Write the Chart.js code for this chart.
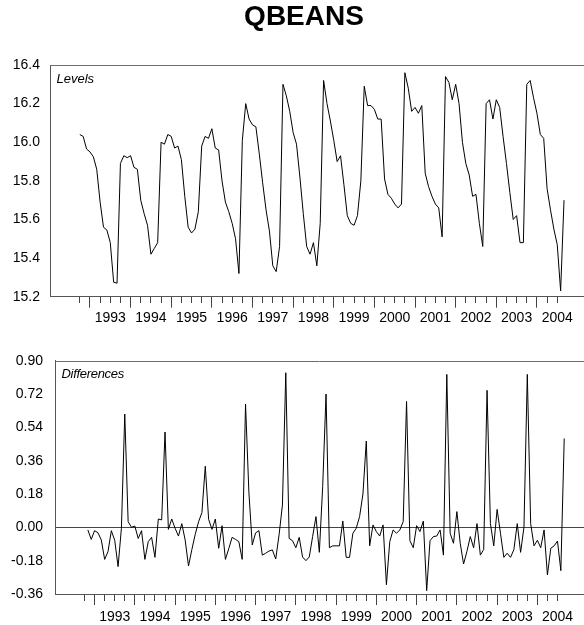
<!DOCTYPE html>
<html>
<head>
<meta charset="utf-8">
<script src="https://cdn.jsdelivr.net/npm/chart.js@4.4.1/dist/chart.umd.min.js"></script>
<style>
    body { margin: 0; background: #fff; overflow: hidden; }
    #top { position: relative; width: 584px; height: 330px; }
    #bottom { position: relative; width: 584px; height: 295px; }
</style>
</head>
<body>
<div id="top"><canvas id="levelsChart"></canvas></div>
<div id="bottom"><canvas id="diffsChart"></canvas></div>
<script>
// monthly series, first observation 1992M10
const startMonth = 9; // months after 1992M1
const years = [1993, 1994, 1995, 1996, 1997, 1998, 1999, 2000, 2001, 2002, 2003, 2004];

const levels = [
    16.04, 16.03, 15.965, 15.95, 15.925, 15.86, 15.69, 15.56, 15.545, 15.48, 15.275, 15.27,
    15.89, 15.93, 15.92, 15.93, 15.87, 15.86, 15.70, 15.63, 15.57, 15.42, 15.45, 15.48,
    16.00, 15.99, 16.04, 16.03, 15.97, 15.98, 15.91, 15.72, 15.56, 15.53, 15.55, 15.64,
    15.98, 16.03, 16.02, 16.07, 15.97, 15.96, 15.80, 15.69, 15.64, 15.58, 15.50, 15.32,
    16.01, 16.20, 16.12, 16.09, 16.08, 15.94, 15.79, 15.65, 15.54, 15.36, 15.33, 15.46,
    16.30, 16.24, 16.16, 16.05, 15.99, 15.82, 15.63, 15.46, 15.42, 15.48, 15.36, 15.58,
    16.32, 16.20, 16.11, 16.01, 15.90, 15.93, 15.78, 15.62, 15.58, 15.57, 15.62, 15.80,
    16.29, 16.19, 16.19, 16.17, 16.12, 16.12, 15.81, 15.73, 15.71, 15.68, 15.66, 15.68,
    16.36, 16.28, 16.16, 16.18, 16.15, 16.19, 15.84, 15.77, 15.72, 15.68, 15.66, 15.51,
    16.34, 16.31, 16.22, 16.30, 16.20, 16.00, 15.89, 15.83, 15.72, 15.73, 15.58, 15.46,
    16.20, 16.22, 16.12, 16.22, 16.18, 16.03, 15.89, 15.74, 15.60, 15.62, 15.48, 15.48,
    16.30, 16.32, 16.23, 16.15, 16.04, 16.02, 15.76, 15.65, 15.55, 15.47, 15.23, 15.70,
];

// first difference starts at 1992M11
const diffs = [
    -0.014, -0.065, -0.018, -0.029, -0.068, -0.173, -0.131, -0.018, -0.07, -0.212, -0.005,
    0.612, 0.031, 0.0, 0.007, -0.06, -0.018, -0.173, -0.077, -0.054, -0.162, 0.045, 0.04,
    0.515, -0.011, 0.045, -0.005, -0.047, 0.02, -0.068, -0.209, -0.12, -0.038, 0.03, 0.08,
    0.33, 0.043, -0.011, 0.045, -0.113, 0.009, -0.173, -0.115, -0.054, -0.065, -0.077, -0.173,
    0.666, 0.19, -0.095, -0.03, -0.018, -0.15, -0.14, -0.128, -0.122, -0.171, -0.04, 0.12,
    0.835, -0.06, -0.072, -0.11, -0.054, -0.16, -0.18, -0.16, -0.05, 0.058, -0.135, 0.22,
    0.72, -0.11, -0.10, -0.10, -0.10, 0.034, -0.162, -0.162, -0.032, -0.005, 0.058, 0.18,
    0.466, -0.10, 0.013, -0.023, -0.047, 0.013, -0.31, -0.077, -0.014, -0.032, -0.014, 0.031,
    0.68, -0.072, -0.11, 0.009, -0.023, 0.034, -0.342, -0.072, -0.05, -0.047, -0.014, -0.15,
    0.826, -0.032, -0.086, 0.085, -0.086, -0.198, -0.13, -0.05, -0.11, 0.02, -0.15, -0.12,
    0.74, 0.02, -0.10, 0.097, -0.032, -0.162, -0.14, -0.162, -0.12, 0.02, -0.135, 0.0,
    0.826, 0.02, -0.10, -0.07, -0.11, -0.014, -0.257, -0.113, -0.10, -0.074, -0.234, 0.48,
];

const levelTicks = [15.2, 15.4, 15.6, 15.8, 16.0, 16.2, 16.4];
const diffTicks = [-0.36, -0.18, 0.00, 0.18, 0.36, 0.54, 0.72, 0.90];

Chart.defaults.font.family = "'Liberation Sans', Arial, sans-serif";
Chart.defaults.font.size = 14;
Chart.defaults.color = '#000';

const xMin = 0.2;
const xMax = 157.9;

// quarterly ticks from the first to the last quarter of the sample
const quarterTicks = [];
for (let m = startMonth; m <= startMonth + levels.length - 1; m += 3) {
    quarterTicks.push(m);
}

const panelLabel = {
    id: 'panelLabel',
    afterDraw(chart, args, opts) {
        const ctx = chart.ctx;
        const area = chart.chartArea;
        ctx.save();
        ctx.strokeStyle = '#6d6d6d';
        ctx.lineWidth = 1;
        ctx.beginPath();
        ctx.moveTo(area.left, Math.round(area.top) + 0.5);
        ctx.lineTo(area.right, Math.round(area.top) + 0.5);
        ctx.stroke();
        ctx.fillStyle = '#000';
        ctx.font = "italic 13px 'Liberation Sans', Arial, sans-serif";
        ctx.letterSpacing = opts.spacing || '0px';
        ctx.textBaseline = 'alphabetic';
        ctx.fillText(opts.text, area.left + opts.dx, area.top + 17.5);
        ctx.restore();
    }
};

function xScale(axisHeight, pad) {
    return {
        type: 'linear',
        min: xMin,
        max: xMax,
        afterBuildTicks: (scale) => {
            scale.ticks = quarterTicks.map(v => ({value: v}));
        },
        afterFit: (scale) => { scale.height = axisHeight; },
        border: {display: true, color: '#555', width: 1},
        grid: {
            display: true,
            drawOnChartArea: false,
            drawTicks: true,
            tickLength: 11,
            tickColor: '#444',
            tickBorderDash: (ctx) => (ctx.tick && ctx.tick.value % 12 === 0) ? [] : [6, 20],
        },
        ticks: {
            autoSkip: false,
            maxRotation: 0,
            minRotation: 0,
            padding: pad,
            callback: (value) => {
                if (value % 12 !== 6) return '';
                const y = 1992 + Math.floor(value / 12);
                return years.includes(y) ? String(y) : '';
            },
        },
    };
}

function yScale(tickList, decimals, width, pad, zeroLine) {
    return {
        type: 'linear',
        min: tickList[0],
        max: tickList[tickList.length - 1],
        afterBuildTicks: (scale) => {
            scale.ticks = tickList.map(v => ({value: v}));
        },
        afterFit: (scale) => { scale.width = width; },
        border: {display: true, color: '#555', width: 1},
        grid: {
            display: zeroLine,
            drawTicks: false,
            color: (ctx) => (ctx.tick && Math.abs(ctx.tick.value) < 1e-9) ? '#444' : 'rgba(0,0,0,0)',
            lineWidth: 1,
        },
        ticks: {
            padding: pad,
            callback: (value) => Number(value).toFixed(decimals),
        },
    };
}

// negative right padding widens the title box so it centres like the original
const levelsConfig = {
    type: 'line',
    data: {
        datasets: [{
            label: 'Levels',
            data: levels.map((v, i) => ({x: startMonth + i, y: v})),
            borderColor: '#000',
            borderWidth: 1,
            pointRadius: 0,
            tension: 0,
            fill: false,
        }]
    },
    options: {
        responsive: true,
        maintainAspectRatio: false,
        animation: false,
        layout: {padding: {left: 0, right: -24, top: 0, bottom: 0}},
        plugins: {
            legend: {display: false},
            tooltip: {enabled: false},
            title: {
                display: true,
                text: 'QBEANS',
                color: '#000',
                font: {size: 28, weight: 'bold'},
                padding: {top: 0, bottom: 31.4},
            },
            panelLabel: {text: 'Levels', dx: 6.5},
        },
        scales: {
            x: xScale(33.3, 2),
            y: yScale(levelTicks, 1, 50, 10, false),
        },
    },
    plugins: [panelLabel],
};

const diffsConfig = {
    type: 'line',
    data: {
        datasets: [{
            label: 'Differences',
            data: diffs.map((v, i) => ({x: startMonth + 1 + i, y: v})),
            borderColor: '#000',
            borderWidth: 1,
            pointRadius: 0,
            tension: 0,
            fill: false,
        }]
    },
    options: {
        responsive: true,
        maintainAspectRatio: false,
        animation: false,
        layout: {padding: {left: 0, right: 0, top: 30.7, bottom: 0}},
        plugins: {
            legend: {display: false},
            tooltip: {enabled: false},
            panelLabel: {text: 'Differences', dx: 6.5, spacing: '-0.3px'},
        },
        scales: {
            x: xScale(31, 3.5),
            y: yScale(diffTicks, 2, 55, 12, true),
        },
    },
    plugins: [panelLabel],
};

const levelsChart = new Chart(document.getElementById('levelsChart'), levelsConfig);
const diffsChart = new Chart(document.getElementById('diffsChart'), diffsConfig);
</script>
</body>
</html>
